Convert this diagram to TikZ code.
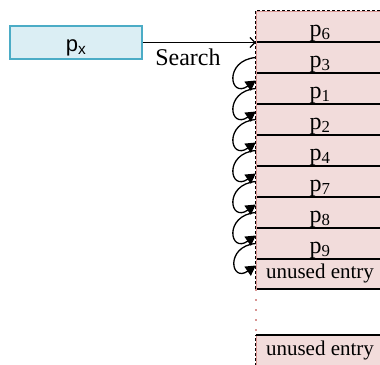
\documentclass[tikz,border=0pt]{standalone}
\usepackage{fontspec}
\setmainfont{Liberation Serif}
\newfontfamily\pxfont{Liberation Sans}
\usetikzlibrary{arrows.meta}
\definecolor{entryfill}{HTML}{F2DCDB}
\definecolor{entryline}{HTML}{D99694}
\definecolor{keyfill}{HTML}{DBEEF4}
\definecolor{keyline}{HTML}{4BACC6}
\tikzset{
  entry/.style={fill=entryfill, minimum width=128pt, minimum height=31pt, inner sep=0pt,
    font=\fontsize{24}{26}\selectfont, text height=22pt, text depth=3pt},
  freeentry/.style={entry, font=\fontsize{21}{24}\selectfont, text height=15pt, text depth=5pt},
  keybox/.style={fill=keyfill, draw=keyline, line width=1.5pt, minimum width=132pt, minimum height=33pt,
    inner sep=0pt, font=\pxfont\fontsize{22}{24}\selectfont, text height=20pt, text depth=3pt},
  sep/.style={line width=1.8pt},
  border/.style={line width=1.2pt, dash pattern=on 3pt off 2pt, preaction={draw=entryline, solid}},
  gap/.style={draw=entryline, line width=1.5pt, dash pattern=on 1.5pt off 8.5pt},
  chain/.style={line width=1.3pt, -{Triangle[length=10pt,width=11pt]}},
  curl/.style={out=185, in=215, looseness=3.6}
}
\begin{document}
\begin{tikzpicture}[x=1pt,y=-1pt]
  \useasboundingbox (0,0) rectangle (380,364);
  % key to look up
  \node[keybox] (px) at (76,42.5) {p\textsubscript{x}};
  % hash table entries
  \node[entry] (p6) at (320,26.5) {p\textsubscript{6}};
  \node[entry] (p3) at (320,57.5) {p\textsubscript{3}};
  \node[entry] (p1) at (320,88.5) {p\textsubscript{1}};
  \node[entry] (p2) at (320,119.5) {p\textsubscript{2}};
  \node[entry] (p4) at (320,150.5) {p\textsubscript{4}};
  \node[entry] (p7) at (320,181.5) {p\textsubscript{7}};
  \node[entry] (p8) at (320,212.5) {p\textsubscript{8}};
  \node[entry] (p9) at (320,243.5) {p\textsubscript{9}};
  \node[freeentry] (unused) at (320,273.5) {unused entry};
  \node[freeentry] (spare) at (320,350.5) {unused entry};
  \foreach \n in {p6,p3,p1,p2,p4,p7,p8,p9,unused}
    \draw[sep] (\n.south west) -- (\n.south east);
  \draw[border] (unused.south west) -- (p6.north west) -- (p6.north east);
  \draw[gap] (unused.south west) -- (spare.north west);
  \draw[border] (spare.south west) -- (spare.north west);
  \draw[sep] (spare.north west) -- (spare.north east);
  % search and probing
  \draw[line width=1.2pt, -{Straight Barb[length=5pt,width=10pt]}] (px.east) -- (px.east -| p6.west)
    node[pos=0.4, anchor=base, yshift=-23pt, font=\fontsize{24}{26}\selectfont] {Search};
  \draw[chain] (p3.west) to[curl] ([yshift=8pt]p1.west);
  \draw[chain] (p1.west) to[curl] ([yshift=8pt]p2.west);
  \draw[chain] (p2.west) to[curl] ([yshift=8pt]p4.west);
  \draw[chain] (p4.west) to[curl] ([yshift=8pt]p7.west);
  \draw[chain] (p7.west) to[curl] ([yshift=8pt]p8.west);
  \draw[chain] (p8.west) to[curl] ([yshift=8pt]p9.west);
  \draw[chain] (p9.west) to[curl] ([yshift=8pt]unused.west);
\end{tikzpicture}
\end{document}
